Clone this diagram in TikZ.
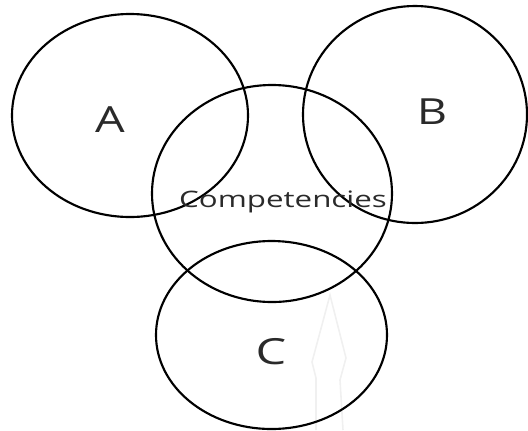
\documentclass[tikz,border=0pt]{standalone}
\usepackage{fontspec}
\setmainfont{Open Sans}
\usetikzlibrary{shapes.geometric}
\definecolor{txt}{HTML}{2A2A2A}
\definecolor{faint}{HTML}{F0F0F0}
\tikzset{
  ring/.style={draw=black, line width=1.6pt, ellipse, inner sep=0pt, outer sep=0pt},
  biglabel/.style={text=txt, font=\fontsize{27}{30}\selectfont, inner sep=0pt},
  midlabel/.style={text=txt, font=\fontsize{17}{20}\selectfont, inner sep=0pt}
}
\begin{document}
\begin{tikzpicture}[x=0.75pt, y=-0.75pt]
\useasboundingbox (0,0) rectangle (528,430);
% faint background mark
\draw[faint, line width=1.2pt] (316,430) -- (316,378) -- (312,362) -- (330,295) -- (346,358) -- (340,380) -- (343,430);
% rings
\node[ring, minimum width=177pt, minimum height=152.25pt] (a) at (130,115.5) {};
\node[ring, minimum width=168pt, minimum height=162.75pt] (b) at (415,114.5) {};
\node[ring, minimum width=180pt, minimum height=162.75pt] (comp) at (272,193.5) {};
\node[ring, minimum width=173.25pt, minimum height=141pt] (c) at (271.5,335) {};
% labels
\node[biglabel] (la) at (110,120) {\scalebox{1.3}[1]{A}};
\node[biglabel] (lb) at (432,111.5) {\scalebox{1.3}[1]{B}};
\node[biglabel] (lc) at (271,351.5) {\scalebox{1.35}[1]{C}};
\node[midlabel, anchor=base] (lcomp) at (283,207.5) {\scalebox{1.38}[1]{Competencies}};
\end{tikzpicture}
\end{document}
